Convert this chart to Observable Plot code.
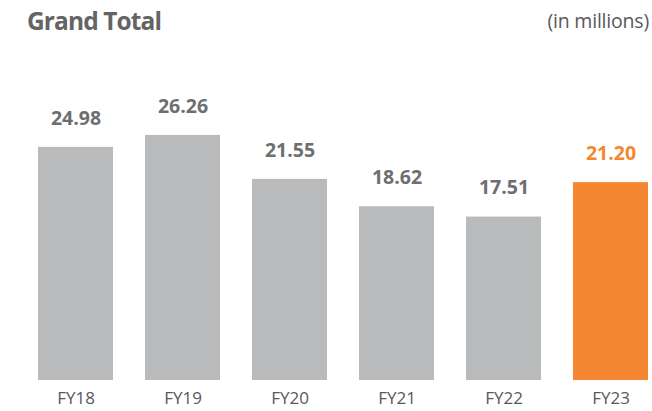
<!DOCTYPE html>
<html><head><meta charset="utf-8">
<script src="https://cdn.jsdelivr.net/npm/d3@7"></script>
<script src="https://cdn.jsdelivr.net/npm/@observablehq/plot@0.6"></script>
<style>
body{margin:0;background:#fff;font-family:"Open Sans",sans-serif;}
#wrap{position:relative;width:652px;height:411px;overflow:hidden;}
#title{position:absolute;left:27px;top:4px;font-size:24.5px;font-weight:700;color:#636466;letter-spacing:-0.9px;}
#unit{position:absolute;right:3px;top:7px;font-size:19.5px;color:#58595b;letter-spacing:-0.2px;}
#chart{position:absolute;left:0;top:44px;}
</style></head><body>
<div id="wrap"><div id="title">Grand Total</div><div id="unit">(in millions)</div><div id="chart"></div></div>
<script>
const years = ["FY18","FY19","FY20","FY21","FY22","FY23"];
const values = [24.98, 26.26, 21.55, 18.62, 17.51, 21.20];
const highlight = [false, false, false, false, false, true];
const data = years.map((y,i)=>({year:y, value:values[i], hi:highlight[i]}));
const gray = "#b9babc", orange = "#f58733";
const plot = Plot.plot({
  width: 652, height: 367,
  marginLeft: 38, marginRight: 4, marginTop: 56, marginBottom: 31,
  style: {fontFamily: "Open Sans", background: "#fff"},
  x: {domain: years, padding: 0.3, paddingOuter: 0, label: null},
  y: {domain: [0, 30], axis: null},
  marks: [
    Plot.barY(data, {x: "year", y: "value", fill: d => d.hi ? orange : gray}),
    Plot.text(data, {x: "year", y: "value", text: d => d.value.toFixed(2), dy: -29, fontSize: 19.5, fontWeight: 700, fill: d => d.hi ? orange : "#6d6e71"}),
    Plot.axisX({tickSize: 0, tickPadding: 11, fontSize: 17, color: "#58595b", label: null, style: {letterSpacing: "-0.5px"}})
  ]
});
document.getElementById("chart").appendChild(plot);
</script></body></html>
